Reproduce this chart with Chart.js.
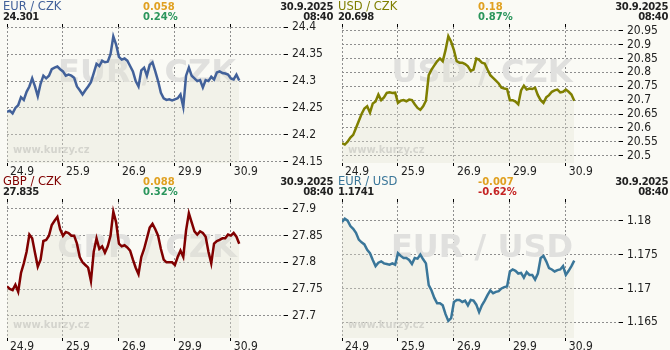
<!DOCTYPE html>
<html>
<head>
<meta charset="utf-8">
<script src="https://cdn.jsdelivr.net/npm/chart.js@4"></script>
<style>
    body { margin: 0; width: 670px; height: 350px; overflow: hidden; background: #fafaf5; font-family: 'DejaVu Sans', sans-serif; }
    .panel { position: absolute; width: 335px; height: 175px; overflow: hidden; }
    .panel canvas { position: absolute; left: 0; top: 0; }
    .txt { position: absolute; white-space: nowrap; font-size: 10px; line-height: 10px; font-weight: bold; }
    .pair { font-size: 11.5px; line-height: 11.5px; font-weight: normal; left: 3px; top: 1px; }
    .last { left: 3px; top: 12px; color: #222; letter-spacing: -0.5px; }
    .chg { left: 143px; top: 1.5px; color: #e0a020; }
    .pct { left: 143px; top: 12px; }
    .date { right: 2px; top: 1.5px; color: #222; letter-spacing: -0.4px; }
    .time { right: 2px; top: 12px; color: #222; letter-spacing: -0.4px; }
</style>
</head>
<body>
<script>
// samples every 1/20 of a trading day, x axis counts trading days from 24.9
const STEP = 0.05;
const dayLabels = ['24.9', '25.9', '26.9', '29.9', '30.9'];
const dayTicks = [0, 1, 2, 3, 4];

const eurCzk = [
    24.243, 24.245, 24.24, 24.25, 24.255, 24.27, 24.265, 24.28, 24.29, 24.305,
    24.29, 24.272, 24.295, 24.31, 24.305, 24.31, 24.322, 24.325, 24.327, 24.322,
    24.318, 24.31, 24.312, 24.31, 24.306, 24.29, 24.283, 24.275, 24.283, 24.29,
    24.298, 24.315, 24.332, 24.328, 24.338, 24.335, 24.336, 24.35, 24.383, 24.368,
    24.345, 24.34, 24.342, 24.338, 24.328, 24.318, 24.3, 24.29, 24.32, 24.325,
    24.31, 24.33, 24.335, 24.318, 24.3, 24.278, 24.268, 24.265, 24.266, 24.264,
    24.266, 24.268, 24.275, 24.252, 24.31, 24.325, 24.31, 24.305, 24.3, 24.302,
    24.288, 24.302, 24.3, 24.308, 24.303, 24.316, 24.318, 24.315, 24.314, 24.312,
    24.305, 24.303, 24.312, 24.301
];
const usdCzk = [
    20.545, 20.54, 20.55, 20.565, 20.575, 20.6, 20.625, 20.65, 20.67, 20.678,
    20.655, 20.688, 20.695, 20.72, 20.7, 20.71, 20.726, 20.728, 20.726, 20.727,
    20.69, 20.698, 20.7, 20.696, 20.702, 20.7, 20.685, 20.672, 20.665, 20.678,
    20.698, 20.79, 20.81, 20.825, 20.84, 20.85, 20.84, 20.88, 20.93, 20.91,
    20.88, 20.84, 20.835, 20.835, 20.83, 20.822, 20.805, 20.81, 20.85, 20.845,
    20.835, 20.832, 20.81, 20.79, 20.78, 20.77, 20.76, 20.745, 20.742, 20.74,
    20.7, 20.7, 20.695, 20.685, 20.735, 20.752, 20.738, 20.742, 20.74, 20.745,
    20.718, 20.7, 20.69, 20.71, 20.718, 20.73, 20.735, 20.738, 20.728, 20.73,
    20.738, 20.73, 20.72, 20.698
];
const gbpCzk = [
    27.755, 27.75, 27.748, 27.758, 27.745, 27.78, 27.798, 27.82, 27.852, 27.845,
    27.818, 27.792, 27.805, 27.84, 27.842, 27.85, 27.87, 27.878, 27.885, 27.862,
    27.85, 27.857, 27.855, 27.85, 27.85, 27.835, 27.81, 27.8, 27.795, 27.79,
    27.765, 27.82, 27.845, 27.825, 27.83, 27.818, 27.83, 27.85, 27.895, 27.875,
    27.835, 27.83, 27.832, 27.828, 27.822, 27.805, 27.79, 27.778, 27.81, 27.825,
    27.845, 27.865, 27.872, 27.862, 27.85, 27.825, 27.805, 27.8, 27.8, 27.8,
    27.795, 27.81, 27.822, 27.81, 27.86, 27.892, 27.875, 27.858, 27.852, 27.858,
    27.855, 27.848, 27.82, 27.798, 27.835, 27.84, 27.842, 27.845, 27.845, 27.852,
    27.85, 27.855, 27.848, 27.835
];
const eurUsd = [
    1.1798, 1.1803, 1.18, 1.1792, 1.1788, 1.1782, 1.1772, 1.1768, 1.1765, 1.1757,
    1.1752, 1.1742, 1.1733, 1.1738, 1.174, 1.1737, 1.1736, 1.1735, 1.1737, 1.1735,
    1.1752, 1.1748, 1.1745, 1.1745, 1.1742, 1.1736, 1.1745, 1.1744, 1.175, 1.1743,
    1.1737, 1.1705, 1.1697, 1.1686, 1.1678, 1.1678, 1.1675, 1.1662, 1.1652, 1.1656,
    1.168, 1.1683, 1.1683, 1.168, 1.1682, 1.1675, 1.1683, 1.1682, 1.1676, 1.1665,
    1.1675, 1.1682, 1.169, 1.1697, 1.1693, 1.1695, 1.1696, 1.17, 1.1702, 1.1703,
    1.1725, 1.1728, 1.1726, 1.1722, 1.1723, 1.1716, 1.1724, 1.172, 1.172, 1.1713,
    1.1722, 1.1745, 1.1748, 1.174, 1.173, 1.1728, 1.1725, 1.1727, 1.1728, 1.1733,
    1.172, 1.1726, 1.1733, 1.1741
];

const eurCzkTicks = [24.15, 24.2, 24.25, 24.3, 24.35, 24.4];
const usdCzkTicks = [20.5, 20.55, 20.6, 20.65, 20.7, 20.75, 20.8, 20.85, 20.9, 20.95];
const gbpCzkTicks = [27.7, 27.75, 27.8, 27.85, 27.9];
const eurUsdTicks = [1.165, 1.17, 1.175, 1.18];

const pairs = ['EUR / CZK', 'USD / CZK', 'GBP / CZK', 'EUR / USD'];
const lastValues = ['24.301', '20.698', '27.835', '1.1741'];
const changes = ['0.058', '0.18', '0.088', '-0.007'];
const changePcts = ['0.24%', '0.87%', '0.32%', '-0.62%'];
const stampDate = '30.9.2025';
const stampTime = '08:40';

const panels = [
    { series: eurCzk, ticks: eurCzkTicks, min: 24.1476, max: 24.4006, color: '#42619a', left: 0, top: 0 },
    { series: usdCzk, ticks: usdCzkTicks, min: 20.4737, max: 20.9633, color: '#7f7f00', left: 335, top: 0 },
    { series: gbpCzk, ticks: gbpCzkTicks, min: 27.6582, max: 27.9131, color: '#800000', left: 0, top: 175 },
    { series: eurUsd, ticks: eurUsdTicks, min: 1.16268, max: 1.18276, color: '#3a7699', left: 335, top: 175 }
];

const tickFont = { family: "'DejaVu Sans Condensed', 'Liberation Sans', sans-serif", size: 12, lineHeight: 1 };

const watermark = {
    id: 'watermark',
    beforeDatasetsDraw(chart, args, opts) {
        const ctx = chart.ctx;
        ctx.save();
        ctx.font = "bold 32px 'DejaVu Sans'";
        ctx.fillStyle = '#e0e0de';
        ctx.textAlign = 'center';
        ctx.textBaseline = 'alphabetic';
        ctx.fillText(opts.text, 147, 82);
        ctx.font = "bold 10px 'DejaVu Sans'";
        ctx.fillStyle = '#cdcdca';
        ctx.textAlign = 'left';
        ctx.fillText('www.kurzy.cz', 13, 153);
        ctx.restore();
    }
};

const addText = (parent, cls, text, color) => {
    const el = document.createElement('div');
    el.className = 'txt ' + cls;
    el.textContent = text;
    if (color) el.style.color = color;
    parent.appendChild(el);
};

panels.forEach((p, k) => {
    const box = document.createElement('div');
    box.className = 'panel';
    box.style.left = p.left + 'px';
    box.style.top = p.top + 'px';
    const canvas = document.createElement('canvas');
    canvas.width = 335;
    canvas.height = 178;
    box.appendChild(canvas);
    document.body.appendChild(box);

    const down = changes[k].startsWith('-');
    addText(box, 'pair', pairs[k], p.color);
    addText(box, 'last', lastValues[k]);
    addText(box, 'chg', changes[k]);
    addText(box, 'pct', changePcts[k], down ? '#c42222' : '#2a955c');
    addText(box, 'date', stampDate);
    addText(box, 'time', stampTime);

    new Chart(canvas, {
        type: 'line',
        data: {
            datasets: [{
                data: p.series.map((v, i) => ({ x: i * STEP, y: v })),
                borderColor: p.color,
                borderWidth: 2.5,
                backgroundColor: 'rgba(227, 227, 212, 0.35)',
                fill: 'start',
                tension: 0,
                pointRadius: 0
            }]
        },
        plugins: [watermark],
        options: {
            responsive: false,
            animation: false,
            devicePixelRatio: 1,
            layout: { padding: { left: 7, top: 24, right: 0, bottom: 0 } },
            plugins: {
                legend: { display: false },
                tooltip: { enabled: false },
                watermark: { text: pairs[k] }
            },
            scales: {
                x: {
                    type: 'linear',
                    min: 0,
                    max: 4.95,
                    afterBuildTicks: s => { s.ticks = dayTicks.map(v => ({ value: v })); },
                    grid: { color: '#8e8e8e', tickColor: '#000', tickLength: 3 },
                    border: { display: false, dash: [2, 2] },
                    ticks: {
                        align: 'start',
                        labelOffset: 3,
                        padding: 0,
                        maxRotation: 0,
                        color: '#222',
                        font: tickFont,
                        callback: v => dayLabels[v]
                    }
                },
                xTop: {
                    type: 'linear',
                    position: 'top',
                    min: 0,
                    max: 4.95,
                    afterBuildTicks: s => { s.ticks = dayTicks.map(v => ({ value: v })); },
                    grid: { drawOnChartArea: false, tickColor: '#000', tickLength: 3 },
                    border: { display: false },
                    ticks: { display: false }
                },
                y: {
                    position: 'right',
                    min: p.min,
                    max: p.max,
                    afterBuildTicks: s => { s.ticks = p.ticks.map(v => ({ value: v })); },
                    afterFit: s => { s.width = 51; },
                    grid: { color: '#8e8e8e', tickColor: '#000', tickLength: 4 },
                    border: { display: false, dash: [2, 2] },
                    ticks: {
                        padding: 4,
                        color: '#222',
                        font: tickFont,
                        callback: v => String(Math.round(v * 1000) / 1000)
                    }
                }
            }
        }
    });
});
</script>
</body>
</html>
